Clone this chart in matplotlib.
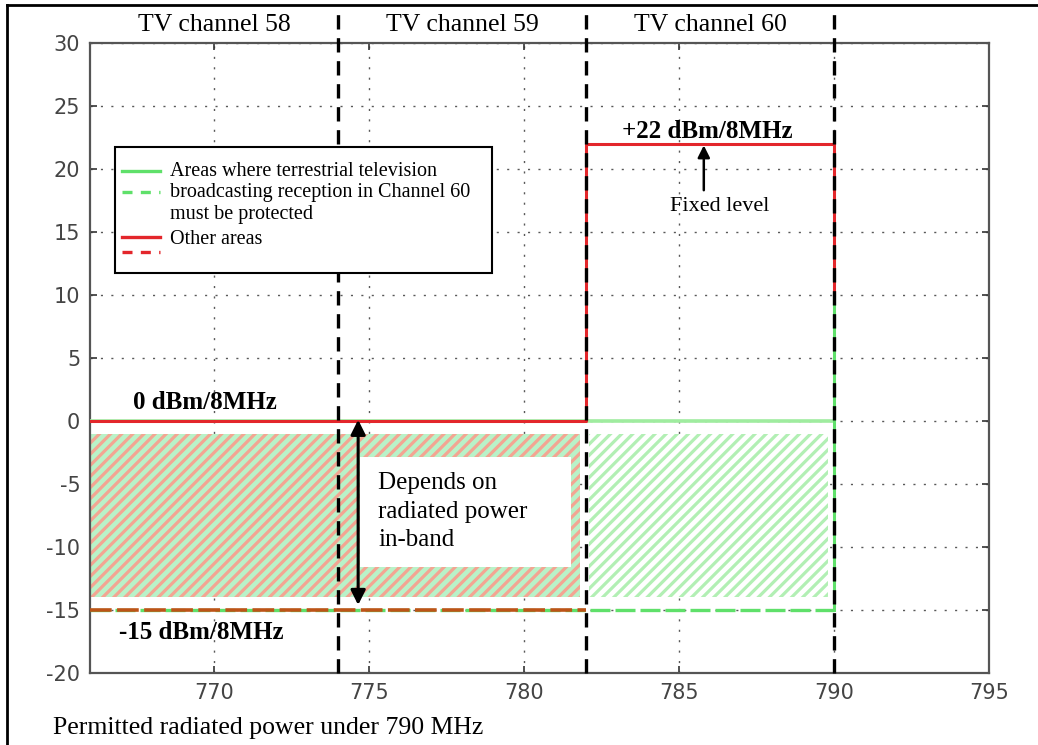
import matplotlib
matplotlib.use('Agg')
import matplotlib.pyplot as plt
from matplotlib.patches import Rectangle
from matplotlib.lines import Line2D
import matplotlib.transforms as mtransforms

# channel layout
channel_edges = [774, 782, 790]
channel_names = ['TV channel 58', 'TV channel 59', 'TV channel 60']
channel_centres = [770, 778, 786]

# "Other areas" limit (red)
red_solid_x = [766, 782, 782, 790, 790]
red_solid_y = [0, 0, 22, 22, 10]
red_dash_x = [766, 782]
red_dash_y = [-15, -15]

# protected areas limit (green)
green_solid_x = [766, 790]
green_solid_y = [0, 0]
green_edge_x = [790, 790]
green_edge_y = [10, -15]
green_dash_x = [766, 790]
green_dash_y = [-15, -15]

# ranges that depend on in-band power
band_left = [766, 781.8]
band_right = [782.1, 789.8]
band_y = [-14, -1]

x_ticks = [770, 775, 780, 785, 790, 795]
y_ticks = [-20, -15, -10, -5, 0, 5, 10, 15, 20, 25, 30]

RED = '#e3262b'
GREEN = '#5fe06a'
SERIF = 'Liberation Serif'

plt.rcParams['hatch.linewidth'] = 2.3
plt.rcParams['axes.unicode_minus'] = False

fig = plt.figure(figsize=(10.38, 7.45), dpi=100)
ax = fig.add_axes([0.0867, 0.0966, 0.8661, 0.8456])
ax.set_xlim(766, 795)
ax.set_ylim(-20, 30)
ax.set_xticks(x_ticks)
ax.set_yticks(y_ticks)
ax.tick_params(direction='in', length=5, width=1.2, top=True, right=True,
               labelsize=15, labelcolor='#444444', color='#333333', pad=7)
for lab in ax.get_xticklabels() + ax.get_yticklabels():
    lab.set_family('DejaVu Sans')
for s in ax.spines.values():
    s.set_color('#555555')
    s.set_linewidth(1.6)
ax.grid(True, color='0.35', linestyle=(0, (1.5, 6)), linewidth=1.0)
ax.set_axisbelow(True)

# hatched regions
ax.add_patch(Rectangle((band_left[0], band_y[0]), band_left[1] - band_left[0],
                       band_y[1] - band_y[0], facecolor='#b9f2c8',
                       edgecolor='#f3a592', hatch='///', linewidth=0, zorder=1.5))
ax.add_patch(Rectangle((band_right[0], band_y[0]), band_right[1] - band_right[0],
                       band_y[1] - band_y[0], facecolor='white',
                       edgecolor='#b2efb4', hatch='///', linewidth=0, zorder=1.5))
# white box behind the note
ax.add_patch(Rectangle((774.7, -11.6), 6.8, 8.75, facecolor='white',
                       edgecolor='none', zorder=1.6))

# limit lines
ax.plot(green_solid_x, green_solid_y, color='#9fec9f', lw=2.6, zorder=3)
ax.plot(green_edge_x, green_edge_y, color=GREEN, lw=2.2, zorder=3)
ax.plot(green_dash_x, green_dash_y, color=GREEN, lw=2.4,
        dashes=(6, 1.5), zorder=3)
ax.plot(red_solid_x, red_solid_y, color=RED, lw=2.2, zorder=4)
ax.plot(red_dash_x, red_dash_y, color='#bd5418', lw=2.6,
        dashes=(6, 1.5), zorder=4)

# channel boundaries, running above the axes
for xe in channel_edges:
    ax.axvline(xe, ymin=0, ymax=1.056, color='black', lw=2.4,
               dashes=(4.3, 2.6), clip_on=False, zorder=5)

trans = mtransforms.blended_transform_factory(ax.transData, ax.transAxes)
for xc, name in zip(channel_centres, channel_names):
    ax.text(xc, 1.029, name, transform=trans, ha='center', va='center',
            family=SERIF, fontsize=18.5)

# level labels
ax.text(769.7, 1.45, '0 dBm/8MHz', ha='center', va='center',
        family=SERIF, fontsize=18, fontweight='bold', zorder=6)
ax.text(769.6, -16.75, '-15 dBm/8MHz', ha='center', va='center',
        family=SERIF, fontsize=18, fontweight='bold', zorder=6)
ax.text(785.9, 22.95, '+22 dBm/8MHz', ha='center', va='center',
        family=SERIF, fontsize=18, fontweight='bold', zorder=6)
ax.text(786.3, 17.0, 'Fixed level', ha='center', va='center',
        family=SERIF, fontsize=16, zorder=6)
ax.annotate('', xy=(785.8, 22.1), xytext=(785.8, 18.1),
            arrowprops=dict(arrowstyle='-|>', color='black', lw=1.8,
                            mutation_scale=18), zorder=6)

ax.annotate('', xy=(774.65, 0.1), xytext=(774.65, -14.6),
            arrowprops=dict(arrowstyle='<|-|>', color='black', lw=2.2,
                            mutation_scale=22, shrinkA=0, shrinkB=0), zorder=6)
ax.text(775.3, -7.2, 'Depends on\nradiated power\nin-band', ha='left',
        va='center', family=SERIF, fontsize=18, linespacing=1.38, zorder=6)

# legend drawn by hand
ax.add_patch(Rectangle((0.0278, 0.635), 0.419, 0.2, transform=ax.transAxes,
                       facecolor='white', edgecolor='black', lw=1.5, zorder=7))
legend_rows = [
    (0.797, GREEN, 'solid'),
    (0.763, GREEN, 'dashed'),
    (0.692, RED, 'solid'),
    (0.668, RED, 'dashed'),
]
for ly, col, style in legend_rows:
    kw = dict(dashes=(3, 2.5)) if style == 'dashed' else {}
    ax.add_line(Line2D([0.0356, 0.0779], [ly, ly], transform=ax.transAxes,
                       color=col, lw=2.4, zorder=8, **kw))
ax.text(0.089, 0.762, 'Areas where terrestrial television\n'
        'broadcasting reception in Channel 60\nmust be protected',
        transform=ax.transAxes, ha='left', va='center', family=SERIF,
        fontsize=14.5, linespacing=1.17, zorder=8)
ax.text(0.089, 0.688, 'Other areas', transform=ax.transAxes, ha='left',
        va='center', family=SERIF, fontsize=14.5, zorder=8)

fig.text(0.051, 0.0228, 'Permitted radiated power under 790 MHz',
         ha='left', va='center', family=SERIF, fontsize=18.5)

# outer frame of the picture
fig.add_artist(Line2D([7 / 1038, 1], [1 - 5 / 745, 1 - 5 / 745],
                      transform=fig.transFigure, color='black', lw=2))
fig.add_artist(Line2D([7 / 1038, 7 / 1038], [0, 1 - 5 / 745],
                      transform=fig.transFigure, color='black', lw=2))

fig.savefig('out.png', dpi=100)
